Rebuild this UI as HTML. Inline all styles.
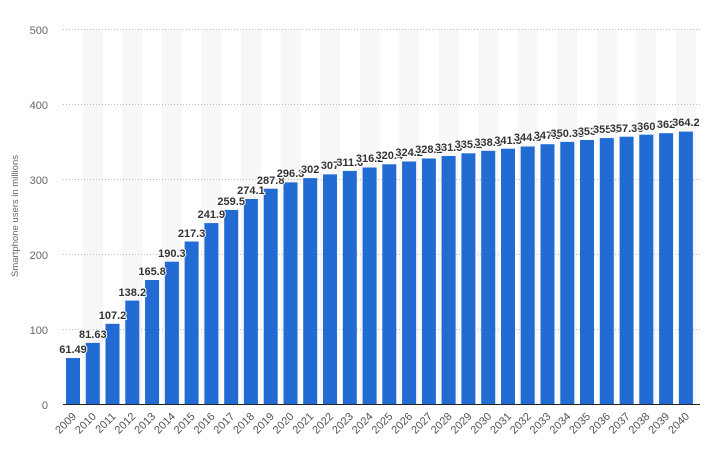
<!DOCTYPE html>
<html><head><meta charset="utf-8"><style>
html,body{margin:0;padding:0;background:#fff;}
svg{display:block;font-family:"Liberation Sans",sans-serif;}
.yl{font-size:11px;fill:#666;text-anchor:end;}
.xl{font-size:11px;fill:#555;text-anchor:end;}
.v{font-size:11px;font-weight:bold;fill:#333;text-anchor:middle;stroke:#fff;stroke-width:2px;paint-order:stroke;}
.g{stroke:#bbb;stroke-width:1;stroke-dasharray:1,2;}
</style></head><body>
<svg width="713" height="451" viewBox="0 0 713 451">
<g fill="#f7f7f7">
<rect x="82.8" y="29" width="20" height="375"/><rect x="122.3" y="29" width="20" height="375"/><rect x="161.9" y="29" width="20" height="375"/><rect x="201.4" y="29" width="20" height="375"/><rect x="240.9" y="29" width="20" height="375"/><rect x="280.5" y="29" width="20" height="375"/><rect x="320" y="29" width="20" height="375"/><rect x="359.6" y="29" width="20" height="375"/><rect x="399.1" y="29" width="20" height="375"/><rect x="438.6" y="29" width="20" height="375"/><rect x="478.2" y="29" width="20" height="375"/><rect x="517.7" y="29" width="20" height="375"/><rect x="557.3" y="29" width="20" height="375"/><rect x="596.8" y="29" width="20" height="375"/><rect x="636.3" y="29" width="20" height="375"/><rect x="675.9" y="29" width="20" height="375"/>
</g>
<line class="g" x1="63" x2="700" y1="29.5" y2="29.5"/>
<line class="g" x1="63" x2="700" y1="104.5" y2="104.5"/>
<line class="g" x1="63" x2="700" y1="179.5" y2="179.5"/>
<line class="g" x1="63" x2="700" y1="254.5" y2="254.5"/>
<line class="g" x1="63" x2="700" y1="329.5" y2="329.5"/>
<text class="yl" x="48" y="34">500</text>
<text class="yl" x="48" y="109">400</text>
<text class="yl" x="48" y="184">300</text>
<text class="yl" x="48" y="259">200</text>
<text class="yl" x="48" y="334">100</text>
<text class="yl" x="48" y="409">0</text>
<text transform="translate(18,216) rotate(-90)" style="font-size:9.5px;fill:#666;text-anchor:middle">Smartphone users in millions</text>
<g fill="#216bd3">
<rect x="66" y="358" width="14" height="46"/>
<rect x="85.8" y="342.9" width="14" height="61.1"/>
<rect x="105.5" y="323.8" width="14" height="80.2"/>
<rect x="125.3" y="300.6" width="14" height="103.4"/>
<rect x="145.1" y="280" width="14" height="124"/>
<rect x="164.9" y="261.7" width="14" height="142.3"/>
<rect x="184.6" y="241.5" width="14" height="162.5"/>
<rect x="204.4" y="223.1" width="14" height="180.9"/>
<rect x="224.2" y="209.9" width="14" height="194.1"/>
<rect x="243.9" y="199" width="14" height="205"/>
<rect x="263.7" y="188.7" width="14" height="215.3"/>
<rect x="283.5" y="182.4" width="14" height="221.6"/>
<rect x="303.2" y="178.1" width="14" height="225.9"/>
<rect x="323" y="174.4" width="14" height="229.6"/>
<rect x="342.8" y="170.9" width="14" height="233.1"/>
<rect x="362.6" y="167.5" width="14" height="236.5"/>
<rect x="382.3" y="164.3" width="14" height="239.7"/>
<rect x="402.1" y="161.5" width="14" height="242.5"/>
<rect x="421.9" y="158.5" width="14" height="245.5"/>
<rect x="441.6" y="156" width="14" height="248"/>
<rect x="461.4" y="153.3" width="14" height="250.7"/>
<rect x="481.2" y="150.8" width="14" height="253.2"/>
<rect x="501" y="148.7" width="14" height="255.3"/>
<rect x="520.7" y="146.5" width="14" height="257.5"/>
<rect x="540.5" y="144.2" width="14" height="259.8"/>
<rect x="560.3" y="141.9" width="14" height="262.1"/>
<rect x="580" y="140" width="14" height="264"/>
<rect x="599.8" y="138.1" width="14" height="265.9"/>
<rect x="619.6" y="136.7" width="14" height="267.3"/>
<rect x="639.3" y="134.7" width="14" height="269.3"/>
<rect x="659.1" y="133.2" width="14" height="270.8"/>
<rect x="678.9" y="131.6" width="14" height="272.4"/>
</g>
<line x1="63" x2="700" y1="404.5" y2="404.5" stroke="#222" stroke-width="1"/>
<g>
<text class="v" x="73" y="353">61.49</text>
<text class="v" x="92.8" y="338">81.63</text>
<text class="v" x="112.5" y="319">107.2</text>
<text class="v" x="132.3" y="296">138.2</text>
<text class="v" x="152.1" y="275">165.8</text>
<text class="v" x="171.9" y="257">190.3</text>
<text class="v" x="191.6" y="237">217.3</text>
<text class="v" x="211.4" y="218">241.9</text>
<text class="v" x="231.2" y="205">259.5</text>
<text class="v" x="250.9" y="194">274.1</text>
<text class="v" x="270.7" y="184">287.8</text>
<text class="v" x="290.5" y="177">296.3</text>
<text class="v" x="310.2" y="173">302</text>
<text class="v" x="330" y="169">307</text>
<text class="v" x="349.8" y="166">311.6</text>
<text class="v" x="369.6" y="162">316.2</text>
<text class="v" x="389.3" y="159">320.4</text>
<text class="v" x="409.1" y="156">324.2</text>
<text class="v" x="428.9" y="153">328.2</text>
<text class="v" x="448.6" y="151">331.5</text>
<text class="v" x="468.4" y="148">335.2</text>
<text class="v" x="488.2" y="146">338.5</text>
<text class="v" x="508" y="144">341.3</text>
<text class="v" x="527.7" y="141">344.3</text>
<text class="v" x="547.5" y="139">347.3</text>
<text class="v" x="567.3" y="137">350.35</text>
<text class="v" x="587" y="135">353</text>
<text class="v" x="606.8" y="133">355.5</text>
<text class="v" x="626.6" y="132">357.36</text>
<text class="v" x="646.3" y="130">360</text>
<text class="v" x="666.1" y="128">362</text>
<text class="v" x="685.9" y="126">364.2</text>
</g>
<g>
<text class="xl" transform="translate(77,417) rotate(-45)">2009</text>
<text class="xl" transform="translate(96.8,417) rotate(-45)">2010</text>
<text class="xl" transform="translate(116.5,417) rotate(-45)">2011</text>
<text class="xl" transform="translate(136.3,417) rotate(-45)">2012</text>
<text class="xl" transform="translate(156.1,417) rotate(-45)">2013</text>
<text class="xl" transform="translate(175.9,417) rotate(-45)">2014</text>
<text class="xl" transform="translate(195.6,417) rotate(-45)">2015</text>
<text class="xl" transform="translate(215.4,417) rotate(-45)">2016</text>
<text class="xl" transform="translate(235.2,417) rotate(-45)">2017</text>
<text class="xl" transform="translate(254.9,417) rotate(-45)">2018</text>
<text class="xl" transform="translate(274.7,417) rotate(-45)">2019</text>
<text class="xl" transform="translate(294.5,417) rotate(-45)">2020</text>
<text class="xl" transform="translate(314.2,417) rotate(-45)">2021</text>
<text class="xl" transform="translate(334,417) rotate(-45)">2022</text>
<text class="xl" transform="translate(353.8,417) rotate(-45)">2023</text>
<text class="xl" transform="translate(373.6,417) rotate(-45)">2024</text>
<text class="xl" transform="translate(393.3,417) rotate(-45)">2025</text>
<text class="xl" transform="translate(413.1,417) rotate(-45)">2026</text>
<text class="xl" transform="translate(432.9,417) rotate(-45)">2027</text>
<text class="xl" transform="translate(452.6,417) rotate(-45)">2028</text>
<text class="xl" transform="translate(472.4,417) rotate(-45)">2029</text>
<text class="xl" transform="translate(492.2,417) rotate(-45)">2030</text>
<text class="xl" transform="translate(512,417) rotate(-45)">2031</text>
<text class="xl" transform="translate(531.7,417) rotate(-45)">2032</text>
<text class="xl" transform="translate(551.5,417) rotate(-45)">2033</text>
<text class="xl" transform="translate(571.3,417) rotate(-45)">2034</text>
<text class="xl" transform="translate(591,417) rotate(-45)">2035</text>
<text class="xl" transform="translate(610.8,417) rotate(-45)">2036</text>
<text class="xl" transform="translate(630.6,417) rotate(-45)">2037</text>
<text class="xl" transform="translate(650.3,417) rotate(-45)">2038</text>
<text class="xl" transform="translate(670.1,417) rotate(-45)">2039</text>
<text class="xl" transform="translate(689.9,417) rotate(-45)">2040</text>
</g>
</svg>
</body></html>
